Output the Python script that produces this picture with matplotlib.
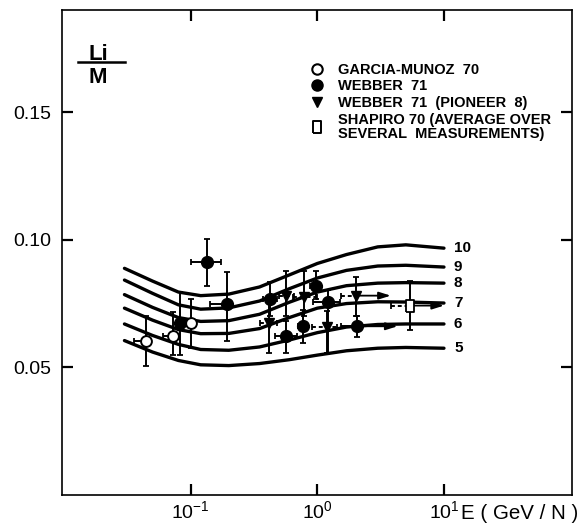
import matplotlib
matplotlib.use("Agg")
import matplotlib.pyplot as plt
from matplotlib.lines import Line2D
import numpy as np

plt.rcParams['font.family'] = ['Liberation Sans', 'DejaVu Sans']
plt.rcParams['mathtext.default'] = 'regular'

# ---------------- data ----------------
curve_E = [0.03, 0.05, 0.08, 0.12, 0.2, 0.35, 0.6, 1.0, 1.7, 3.0, 5.0, 10.0]
curve_labels = ["10", "9", "8", "7", "6", "5"]
curve_10 = [0.0888, 0.0838, 0.0795, 0.0781, 0.0787, 0.0815, 0.0862, 0.0907, 0.0942, 0.0972, 0.0980, 0.0967]
curve_9 = [0.0842, 0.0790, 0.0745, 0.0728, 0.0733, 0.0760, 0.0808, 0.0850, 0.0880, 0.0897, 0.0900, 0.0893]
curve_8 = [0.0785, 0.0735, 0.0695, 0.0680, 0.0683, 0.0708, 0.0755, 0.0795, 0.0820, 0.0830, 0.0832, 0.0830]
curve_7 = [0.0732, 0.0685, 0.0648, 0.0632, 0.0633, 0.0652, 0.0695, 0.0732, 0.0750, 0.0757, 0.0756, 0.0752]
curve_6 = [0.0670, 0.0625, 0.0590, 0.0570, 0.0567, 0.0580, 0.0607, 0.0636, 0.0658, 0.0668, 0.0670, 0.0670]
curve_5 = [0.0605, 0.0560, 0.0527, 0.0510, 0.0507, 0.0515, 0.0530, 0.0548, 0.0565, 0.0575, 0.0578, 0.0575]
curves = [curve_10, curve_9, curve_8, curve_7, curve_6, curve_5]

# Garcia-Munoz 70 (open circles)
gm_E = [0.0444, 0.0721, 0.1007]
gm_val = [0.0603, 0.0622, 0.0672]
gm_lo = [0.0505, 0.0550, 0.0577]
gm_hi = [0.0703, 0.0716, 0.0766]
gm_Elo = [0.0357, 0.0608, 0.1007]
gm_Ehi = [0.0444, 0.0721, 0.1007]

# Webber 71 (filled circles)
wb_E = [0.0824, 0.135, 0.193, 0.423, 0.566, 0.775, 0.977, 1.21, 2.05]
wb_val = [0.0672, 0.0911, 0.0749, 0.0766, 0.0622, 0.0661, 0.0818, 0.0755, 0.0661]
wb_lo = [0.0550, 0.0818, 0.0603, 0.0700, 0.0557, 0.0596, 0.0766, 0.0557, 0.0620]
wb_hi = [0.0794, 0.1003, 0.0872, 0.0833, 0.0680, 0.0724, 0.0876, 0.0805, 0.0700]
wb_Elo = [0.0824, 0.101, 0.143, 0.37, 0.46, 0.70, 0.88, 0.92, 1.53]
wb_Ehi = [0.0824, 0.173, 0.193, 0.48, 0.69, 0.84, 1.05, 1.50, 2.05]
wb_arrow_idx = [8]
wb_arrow_to = [4.3]

# Webber 71 (Pioneer 8) (filled down triangles)
pn_E = [0.418, 0.566, 0.785, 1.19, 2.02]
pn_val = [0.0675, 0.0781, 0.0776, 0.0659, 0.0781]
pn_lo = [0.0557, 0.0700, 0.0700, 0.0557, 0.0700]
pn_hi = [0.0760, 0.0876, 0.0876, 0.0720, 0.0854]
pn_Elo = [0.35, 0.50, 0.64, 0.90, 1.53]
pn_Ehi = [0.48, 0.65, 1.00, 1.43, 2.02]
pn_arrow_idx = [4]
pn_arrow_to = [3.8]

# Shapiro 70 (open square)
sh_E = [5.4]
sh_val = [0.0742]
sh_lo = [0.0648]
sh_hi = [0.0840]
sh_Elo = [3.8]
sh_Ehi = [5.4]
sh_arrow_to = [10.0]

legend_labels = ["GARCIA-MUNOZ  70", "WEBBER  71", "WEBBER  71  (PIONEER  8)",
                 "SHAPIRO 70 (AVERAGE OVER\nSEVERAL  MEASUREMENTS)"]

# ---------------- figure ----------------
W, H = 583, 525
fig = plt.figure(figsize=(W / 100, H / 100), dpi=100)
ax = fig.add_axes([62 / W, 1 - 495 / H, 510 / W, 485 / H])
ax.set_xscale('log')
ax.set_xlim(10 ** -2.016, 10 ** 2.011)
ax.set_ylim(0.0, 0.19)

for s in ax.spines.values():
    s.set_linewidth(1.2)

ax.set_xticks([0.1, 1, 10])
ax.set_xticklabels(["$10^{-1}$", "$10^{0}$", "$10^{1}$"], fontsize=14)
ax.xaxis.set_minor_locator(matplotlib.ticker.NullLocator())
ax.set_yticks([0.05, 0.10, 0.15])
ax.set_yticklabels(["0.05", "0.10", "0.15"], fontsize=14)
ax.tick_params(direction='in', length=8, width=1.6, top=True, right=True, color='black')
ax.tick_params(axis='y', pad=8)
ax.tick_params(axis='x', pad=4)

# curves
for lab, vals in zip(curve_labels, curves):
    ax.plot(curve_E, vals, color='black', lw=2.4, solid_capstyle='round', zorder=2)
    ax.text(12.0, vals[-1], lab, ha='left', va='center', fontsize=11, fontweight='bold')

eb_kw = dict(fmt='none', ecolor='black', elinewidth=1.4, capsize=2.2, capthick=1.3, zorder=3)


def draw(E, val, lo, hi, Elo, Ehi, dashed=False):
    E = np.array(E); val = np.array(val)
    yerr = [val - np.array(lo), np.array(hi) - val]
    xerr = [E - np.array(Elo), np.array(Ehi) - E]
    c = ax.errorbar(E, val, yerr=yerr, xerr=xerr, **eb_kw)
    if dashed:
        c[2][0].set_linestyle((0, (2, 1.5)))


draw(gm_E, gm_val, gm_lo, gm_hi, gm_Elo, gm_Ehi)
draw(wb_E, wb_val, wb_lo, wb_hi, wb_Elo, wb_Ehi)
draw(pn_E, pn_val, pn_lo, pn_hi, pn_Elo, pn_Ehi, dashed=True)
draw(sh_E, sh_val, sh_lo, sh_hi, sh_Elo, sh_Ehi, dashed=True)

arrow_kw = dict(arrowstyle='-|>,head_length=0.7,head_width=0.22', color='black', lw=1.3,
                shrinkA=0, shrinkB=0)
for i, to in zip(wb_arrow_idx, wb_arrow_to):
    ax.annotate('', xy=(to, wb_val[i]), xytext=(wb_E[i], wb_val[i]), arrowprops=arrow_kw)
for i, to in zip(pn_arrow_idx, pn_arrow_to):
    ax.annotate('', xy=(to, pn_val[i]), xytext=(pn_E[i], pn_val[i]), arrowprops=arrow_kw)
for i, to in enumerate(sh_arrow_to):
    ax.annotate('', xy=(to, sh_val[i]), xytext=(sh_E[i], sh_val[i]), arrowprops=arrow_kw)

rect = [(-0.6, -1), (0.6, -1), (0.6, 1), (-0.6, 1), (-0.6, -1)]
ax.plot(gm_E, gm_val, 'o', ms=7.8, mfc='white', mec='black', mew=1.4, ls='none', zorder=4)
ax.plot(wb_E, wb_val, 'o', ms=8.5, mfc='black', mec='black', ls='none', zorder=4)
ax.plot(pn_E, pn_val, 'v', ms=7.5, mfc='black', mec='black', ls='none', zorder=4)
ax.plot(sh_E, sh_val, marker=rect, ms=9, mfc='white', mec='black', mew=1.3, ls='none', zorder=4)

# legend
handles = [
    Line2D([], [], marker='o', ms=7.5, mfc='white', mec='black', mew=1.5, ls='none'),
    Line2D([], [], marker='o', ms=8, mfc='black', mec='black', ls='none'),
    Line2D([], [], marker='v', ms=7.5, mfc='black', mec='black', ls='none'),
    Line2D([], [], marker=rect, ms=8.5, mfc='white', mec='black', mew=1.4, ls='none'),
]
leg = ax.legend(handles, legend_labels, loc='upper left', bbox_to_anchor=(0.486, 0.891),
                frameon=False, borderpad=0, borderaxespad=0, handlelength=1.0,
                handletextpad=0.9, labelspacing=0.18,
                prop=dict(family='Liberation Sans', weight='bold', size=10.5))
for t in leg.get_texts():
    t.set_linespacing(1.05)

# Li / M label
ax.text(0.0706, 0.897, "Li", transform=ax.transAxes, ha='center', va='baseline',
        fontsize=16, fontweight='bold')
ax.add_line(Line2D([0.031, 0.124], [0.893, 0.893], transform=ax.transAxes,
                   color='black', lw=1.8))
ax.text(0.0706, 0.883, "M", transform=ax.transAxes, ha='center', va='top',
        fontsize=16, fontweight='bold')

fig.text(461 / W, 6 / H, "E ( GeV / N )", ha='left', va='baseline', fontsize=14.8)

fig.savefig("out.png", dpi=100)
